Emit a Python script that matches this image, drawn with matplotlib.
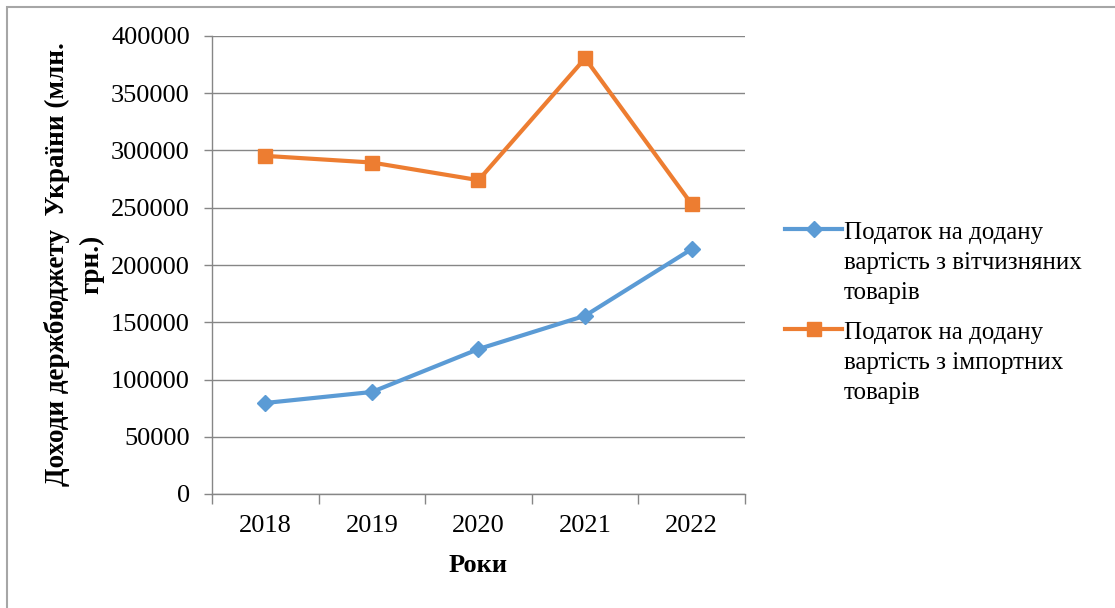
import matplotlib.pyplot as plt
from matplotlib.patches import Rectangle
from matplotlib.legend_handler import HandlerLine2D

years = ['2018', '2019', '2020', '2021', '2022']
vat_domestic = [79500, 89100, 126600, 155700, 213900]
vat_import = [295300, 289500, 274100, 380500, 253100]
label_domestic = 'Податок на додану\nвартість з вітчизняних\nтоварів'
label_import = 'Податок на додану\nвартість з імпортних\nтоварів'


class FirstLineHandler(HandlerLine2D):
    # put the legend key next to the first line of a wrapped label
    def create_artists(self, legend, orig_handle, xdescent, ydescent,
                       width, height, fontsize, trans):
        artists = super().create_artists(legend, orig_handle, xdescent,
                                         ydescent, width, height, fontsize,
                                         trans)
        for a in artists:
            a.set_ydata([y + 1.2 * fontsize + 3 for y in a.get_ydata()])
        return artists


plt.rcParams['font.family'] = ['Liberation Serif', 'DejaVu Serif']
plt.rcParams['font.size'] = 19

W, H = 1115, 608
fig = plt.figure(figsize=(W / 100, H / 100), dpi=100)
ax = fig.add_axes([212 / W, 1 - 494 / H, 533 / W, 458 / H])

# outer frame of the chart area (runs off the right/bottom edge)
fig.patches.append(Rectangle((7 / W, -0.05), 1.1, 1 - 7 / H + 0.05,
                             transform=fig.transFigure, fill=False,
                             edgecolor='#a6a6a6', linewidth=1.5))

x = [i + 0.5 for i in range(len(years))]
ax.plot(x, vat_domestic, color='#5b9bd5', linewidth=3, marker='D',
        markersize=8, label=label_domestic, zorder=3)
ax.plot(x, vat_import, color='#ed7d31', linewidth=3, marker='s',
        markersize=10, label=label_import, zorder=3)

ax.set_xlim(0, len(years))
ax.set_ylim(0, 400000)
ax.set_yticks(range(0, 400001, 50000))
ax.set_xticks(range(len(years) + 1))
ax.set_xticklabels([])
ax.set_xticks(x, minor=True)
ax.set_xticklabels(years, minor=True)
ax.tick_params(axis='x', which='minor', length=0, pad=15)
ax.tick_params(axis='x', which='major', length=7, color='#868686', width=1)
ax.tick_params(axis='y', length=6, color='#868686', width=1, pad=10)

ax.grid(axis='y', color='#868686', linewidth=1)
ax.set_axisbelow(True)
for s in ['top', 'right']:
    ax.spines[s].set_visible(False)
for s in ['left', 'bottom']:
    ax.spines[s].set_color('#868686')
    ax.spines[s].set_linewidth(1)

fig.text(478 / W, 1 - 565 / H, 'Роки', fontweight='bold',
         ha='center', va='center')
fig.text(74 / W, 1 - 264 / H, 'Доходи держбюджету  України (млн.\nгрн.)',
         fontweight='bold', fontsize=19.5, rotation=90, ha='center',
         va='center', multialignment='center', linespacing=1.45)

leg = ax.legend(loc='center left', bbox_to_anchor=(1.075, 0.395),
                frameon=False, fontsize=18, borderaxespad=0, borderpad=0,
                handlelength=2.3, handletextpad=0.05, labelspacing=0.75,
                handler_map={plt.Line2D: FirstLineHandler()})
for t in leg.get_texts():
    t.set_linespacing(1.45)

fig.savefig('out.png', dpi=100)
